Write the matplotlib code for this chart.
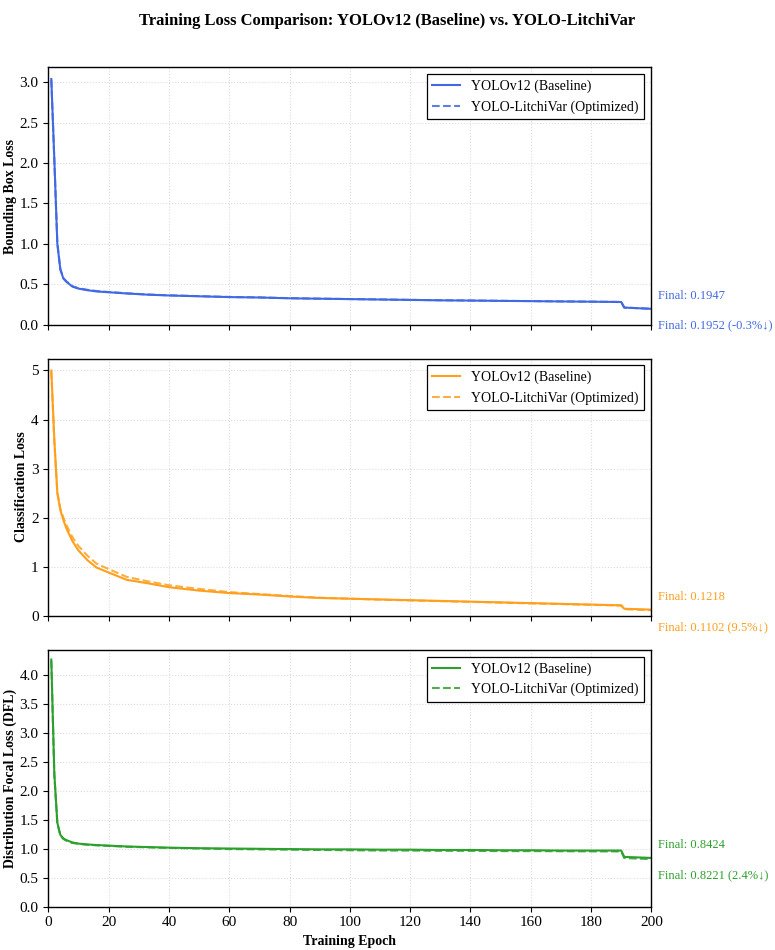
import matplotlib

matplotlib.use("Agg")

import matplotlib.pyplot as plt
from matplotlib.ticker import MultipleLocator

plt.rcParams["font.family"] = ["Liberation Serif", "DejaVu Serif"]

epochs = [1, 2, 3, 4, 5, 6, 8, 10, 13, 16, 20, 26, 33, 40, 50, 60, 70, 80, 90,
          100, 110, 120, 130, 140, 150, 160, 170, 180, 190, 191, 200]

box_base = [3.04, 2.05, 1.00, 0.68, 0.57, 0.53, 0.47, 0.445, 0.425, 0.41, 0.40,
            0.385, 0.37, 0.36, 0.35, 0.34, 0.335, 0.325, 0.32, 0.315, 0.31, 0.305,
            0.30, 0.297, 0.293, 0.29, 0.286, 0.283, 0.279, 0.21, 0.1947]
box_opt = [3.03, 2.04, 1.01, 0.69, 0.575, 0.535, 0.475, 0.45, 0.43, 0.415, 0.403,
           0.387, 0.372, 0.362, 0.352, 0.342, 0.336, 0.327, 0.321, 0.316, 0.311,
           0.306, 0.301, 0.298, 0.294, 0.291, 0.287, 0.284, 0.280, 0.211, 0.1952]

cls_base = [5.0, 3.6, 2.5, 2.15, 1.95, 1.78, 1.52, 1.33, 1.13, 0.98, 0.88, 0.73,
            0.66, 0.58, 0.51, 0.46, 0.43, 0.39, 0.36, 0.345, 0.33, 0.315, 0.30,
            0.285, 0.27, 0.255, 0.24, 0.225, 0.21, 0.14, 0.1218]
cls_opt = [4.98, 3.55, 2.52, 2.18, 2.0, 1.85, 1.6, 1.42, 1.22, 1.06, 0.95, 0.79,
           0.70, 0.62, 0.545, 0.48, 0.44, 0.40, 0.365, 0.345, 0.325, 0.31, 0.295,
           0.28, 0.265, 0.25, 0.235, 0.22, 0.205, 0.13, 0.1102]

dfl_base = [4.27, 2.3, 1.45, 1.24, 1.18, 1.15, 1.11, 1.09, 1.075, 1.065, 1.055,
            1.04, 1.03, 1.02, 1.01, 1.005, 1.0, 0.995, 0.99, 0.99, 0.985, 0.985,
            0.98, 0.98, 0.975, 0.975, 0.97, 0.97, 0.97, 0.86, 0.8424]
dfl_opt = [4.25, 2.28, 1.44, 1.23, 1.17, 1.14, 1.10, 1.085, 1.07, 1.06, 1.05,
           1.035, 1.025, 1.015, 1.005, 0.995, 0.99, 0.985, 0.98, 0.975, 0.97, 0.97,
           0.965, 0.965, 0.96, 0.96, 0.958, 0.955, 0.955, 0.84, 0.8221]

panels = [
    ("Bounding Box Loss", box_base, box_opt, "#4169E1", "-0.3%", 0.5),
    ("Classification Loss", cls_base, cls_opt, "#FF9F1C", "9.5%", 1.0),
    ("Distribution Focal Loss (DFL)", dfl_base, dfl_opt, "#2CA02C", "2.4%", 0.5),
]

fig, axes = plt.subplots(3, 1, figsize=(7.75, 9.5), dpi=100, sharex=True)
fig.subplots_adjust(left=0.0623, right=0.8405, top=0.929, bottom=0.0456, hspace=0.132)

for ax, (ylabel, base, opt, color, pct, ystep) in zip(axes, panels):
    ax.plot(epochs, base, color=color, linewidth=1.5, label="YOLOv12 (Baseline)")
    ax.plot(epochs, opt, color=color, linewidth=1.5, linestyle="--", alpha=0.85,
            label="YOLO-LitchiVar (Optimized)")
    ax.set_xlim(0, 200)
    ax.set_ylim(bottom=0)
    ax.yaxis.set_major_locator(MultipleLocator(ystep))
    ax.set_ylabel(ylabel, fontsize=10, fontweight="bold", labelpad=2)
    ax.tick_params(axis="both", labelsize=11)
    ax.grid(True, linestyle=":", linewidth=0.8, color="#cccccc", alpha=0.7)
    for s in ax.spines.values():
        s.set_color("black")
        s.set_linewidth(1.0)
    leg = ax.legend(loc="upper right", fontsize=10, fancybox=False, framealpha=1,
                    edgecolor="black")
    leg.get_frame().set_linewidth(0.9)

    ax.annotate(f"Final: {base[-1]:.4f}", xy=(epochs[-1], base[-1]),
                xytext=(5, 9), textcoords="offset points", va="center",
                fontsize=9, color=color, annotation_clip=False)
    ax.annotate(f"Final: {opt[-1]:.4f} ({pct}↓)", xy=(epochs[-1], opt[-1]),
                xytext=(5, -12), textcoords="offset points", va="center",
                fontsize=9, color=color, annotation_clip=False)

axes[-1].set_xlabel("Training Epoch", fontsize=10, fontweight="bold")
axes[-1].set_xticks(range(0, 201, 20))

fig.suptitle("Training Loss Comparison: YOLOv12 (Baseline) vs. YOLO-LitchiVar",
             fontsize=12, fontweight="bold", y=0.986)

fig.savefig("out.png", dpi=100, facecolor="white")
